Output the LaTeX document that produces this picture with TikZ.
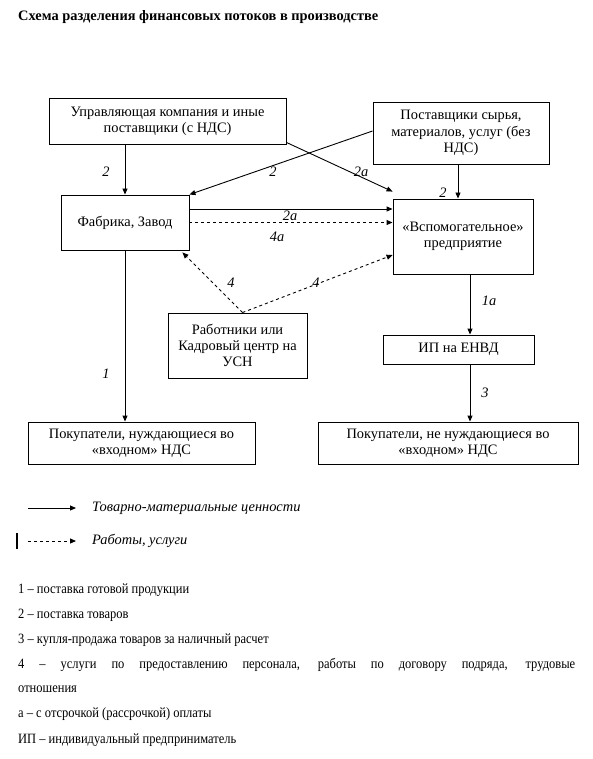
\documentclass[tikz,border=0pt]{standalone}
\usepackage{fontspec}
\setmainfont{Liberation Serif}
\usetikzlibrary{arrows.meta,calc}
\newcommand{\fsz}{\fontsize{14.4}{16.3}\selectfont}
\newcommand{\fsl}{\fontsize{14.2}{16}\selectfont}
\newcommand{\cond}[1]{\scalebox{0.88}[1]{#1}}
\begin{document}
\begin{tikzpicture}[x=1pt,y=-1pt,
  box/.style={draw,line width=0.9pt,rectangle,inner sep=0pt,align=center,font=\fsz},
  arr/.style={line width=0.9pt,-{Triangle[length=6pt,width=5pt]}},
  darr/.style={line width=0.9pt,dash pattern=on 3pt off 3pt,-{Triangle[length=6pt,width=5pt]}},
  lbl/.style={font=\fsz\itshape,inner sep=0pt},
  txt/.style={font=\fsl,inner sep=0pt,anchor=west}]
\fill[white] (0,0) rectangle (592,759);
\useasboundingbox (0,0) rectangle (592,759);

% title
\node[txt,font=\fsz\bfseries] (title) at (18,17) {Схема разделения финансовых потоков в производстве};

% boxes
\node[box,minimum width=237pt,minimum height=46pt] (mc) at (167.5,121) {Управляющая компания и иные\\поставщики (с НДС)};
\node[box,minimum width=176pt,minimum height=62pt] (sup) at (461,133) {Поставщики сырья,\\материалов, услуг (без\\НДС)};
\node[box,minimum width=128pt,minimum height=55pt] (fab) at (125,222.5) {Фабрика, Завод};
\node[box,minimum width=140pt,minimum height=75pt] (aux) at (463,236.5) {«Вспомогательное»\\предприятие};
\node[box,minimum width=139pt,minimum height=65pt] (wrk) at (237.5,345.5) {Работники или\\Кадровый центр на\\УСН};
\node[box,minimum width=151pt,minimum height=29pt] (ip) at (458.5,349.5) {ИП на ЕНВД};
\node[box,minimum width=227pt,minimum height=42pt] (buy1) at (141.5,443) {Покупатели, нуждающиеся во\\«входном» НДС};
\node[box,minimum width=260pt,minimum height=42pt] (buy2) at (448,443) {Покупатели, не нуждающиеся во\\«входном» НДС};

% connectors
\draw[arr] (fab.north |- mc.south) -- (fab.north);
\draw[arr] ([yshift=2pt]sup.west) -- (fab.north east);
\draw[arr] ([yshift=2pt]mc.south east) -- ([yshift=7pt]aux.north west);
\draw[arr] ([xshift=-3pt]sup.south) -- ([xshift=-3pt]sup.south |- aux.north);
\draw[arr] ([yshift=13.5pt]fab.east) -- ([yshift=13.5pt]fab.east -| aux.west);
\draw[darr] (fab.east) -- (fab.east -| aux.west);
\draw[darr] ([xshift=5pt]wrk.north) -- ([xshift=-7pt,yshift=-2pt]fab.south east);
\draw[darr] ([xshift=5pt]wrk.north) -- ([yshift=-18.5pt]aux.west);
\draw[arr] (fab.south) -- (fab.south |- buy1.north);
\draw[arr] ([xshift=7pt]aux.south) -- ([xshift=7pt]aux.south |- ip.north);
\draw[arr] ([xshift=11.5pt]ip.south) -- ([xshift=11.5pt]ip.south |- buy2.north);

% connector labels
\node[lbl] (l1) at (106,172) {2};
\node[lbl] (l2) at (273,172) {2};
\node[lbl] (l3) at (361,172) {2а};
\node[lbl] (l4) at (443,193) {2};
\node[lbl] (l5) at (290,216) {2а};
\node[lbl] (l6) at (277,237) {4а};
\node[lbl] (l7) at (231,283) {4};
\node[lbl] (l8) at (316,283) {4};
\node[lbl] (l9) at (106,374) {1};
\node[lbl] (l10) at (489,301) {1а};
\node[lbl] (l11) at (485,393) {3};

% legend
\node[txt,font=\fsz\itshape] (lt1) at (92,508) {Товарно-материальные ценности};
\node[txt,font=\fsz\itshape] (lt2) at (92,541) {Работы, услуги};
\coordinate (ls1) at (28,508);
\coordinate (ls2) at (28,541);
\draw[arr] (ls1) -- ([xshift=-16pt]lt1.west);
\draw[darr] (ls2) -- ([xshift=-16pt]lt2.west);
\coordinate (bar1) at (17,533);
\coordinate (bar2) at (17,549);
\draw[line width=1.6pt] (bar1) -- (bar2);

\node[txt] (n1) at (18,590) {\cond{1 – поставка готовой продукции}};
\node[txt] (n2) at (18,615) {\cond{2 – поставка товаров}};
\node[txt] (n3) at (18,640) {\cond{3 – купля-продажа товаров за наличный расчет}};
\node[txt] (n4) at (18,665) {\cond{\makebox[633pt][s]{4 – услуги по предоставлению персонала, работы по договору подряда, трудовые}}};
\node[txt] (n5) at (18,689) {\cond{отношения}};
\node[txt] (n6) at (18,714) {\cond{а – с отсрочкой (рассрочкой) оплаты}};
\node[txt] (n7) at (18,740) {\cond{ИП – индивидуальный предприниматель}};
\end{tikzpicture}
\end{document}
